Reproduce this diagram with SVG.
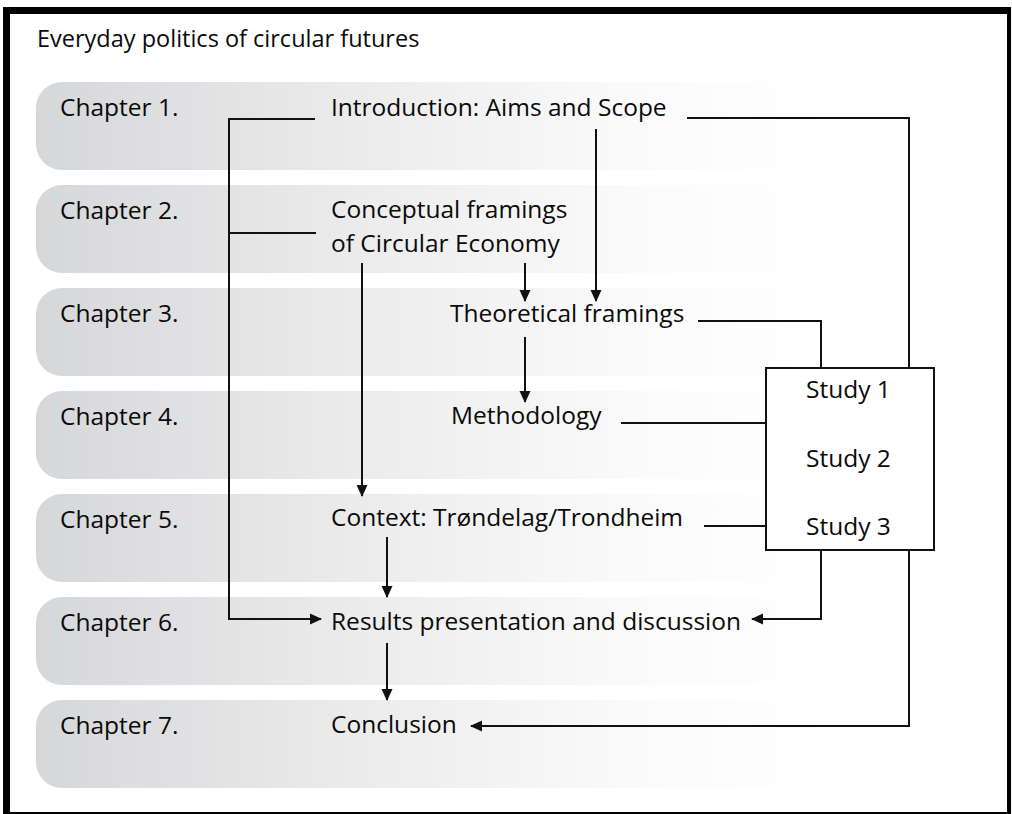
<svg xmlns="http://www.w3.org/2000/svg" width="1012" height="814" viewBox="0 0 1012 814">
  <defs>
    <linearGradient id="bandFill" gradientUnits="userSpaceOnUse" x1="36" y1="0" x2="820" y2="0">
      <stop offset="0" stop-color="#d6d7d9"/>
      <stop offset="0.4" stop-color="#ebebec"/>
      <stop offset="0.75" stop-color="#fafafa"/>
      <stop offset="1" stop-color="#ffffff"/>
    </linearGradient>
    <marker id="arrow" markerUnits="userSpaceOnUse" markerWidth="12" markerHeight="12" viewBox="0 0 12 12" refX="11" refY="6" orient="auto">
      <path d="M0,0.5 L12,6 L0,11.5 Z" fill="#111"/>
    </marker>
    <path id="band" d="M62,0 H1000 V88 H62 A26,26 0 0 1 36,62 V26 A26,26 0 0 1 62,0 Z"/>
  </defs>
  <style>
    text { font-family: "Open Sans", "Noto Sans", "Liberation Sans", sans-serif; font-size: 24.5px; fill: #0a0a0a; }
    .title { font-size: 23.5px; }
    .band { fill: url(#bandFill); }
    .link { fill: none; stroke: #111; stroke-width: 2; }
    .box { fill: #fff; stroke: #111; stroke-width: 2; }
  </style>

  <!-- frame -->
  <rect x="3" y="7" width="1008" height="807" fill="#000"/>
  <rect x="10" y="14" width="997" height="798" fill="#fff"/>

  <text class="title" x="37" y="47">Everyday politics of circular futures</text>

  <!-- chapter bands -->
  <g id="chapter1"><use href="#band" class="band" y="82"/><text x="60" y="116">Chapter 1.</text></g>
  <g id="chapter2"><use href="#band" class="band" y="185"/><text x="60" y="219">Chapter 2.</text></g>
  <g id="chapter3"><use href="#band" class="band" y="288"/><text x="60" y="322">Chapter 3.</text></g>
  <g id="chapter4"><use href="#band" class="band" y="391"/><text x="60" y="425">Chapter 4.</text></g>
  <g id="chapter5"><use href="#band" class="band" y="494"/><text x="60" y="528">Chapter 5.</text></g>
  <g id="chapter6"><use href="#band" class="band" y="597"/><text x="60" y="631">Chapter 6.</text></g>
  <g id="chapter7"><use href="#band" class="band" y="700"/><text x="60" y="734">Chapter 7.</text></g>

  <!-- content nodes -->
  <g id="introduction"><text x="331" y="116">Introduction: Aims and Scope</text></g>
  <g id="conceptual"><text x="331" y="218">Conceptual framings</text><text x="331" y="252">of Circular Economy</text></g>
  <g id="theoretical"><text x="450" y="322">Theoretical framings</text></g>
  <g id="methodology"><text x="451" y="424">Methodology</text></g>
  <g id="context"><text x="331" y="526">Context: Trøndelag/Trondheim</text></g>
  <g id="results"><text x="331" y="630">Results presentation and discussion</text></g>
  <g id="conclusion"><text x="331" y="733">Conclusion</text></g>

  <g id="studies">
    <rect class="box" x="766" y="368" width="168" height="182"/>
    <text x="806" y="398">Study 1</text>
    <text x="806" y="467">Study 2</text>
    <text x="806" y="535">Study 3</text>
  </g>

  <!-- connectors -->
  <g id="connectors">
    <path class="link" d="M315,119 H229 V619 H321" marker-end="url(#arrow)"/>
    <path class="link" d="M229,233 H316"/>
    <path class="link" d="M687,118 H909 V368"/>
    <path class="link" d="M596,129 V301" marker-end="url(#arrow)"/>
    <path class="link" d="M525,263 V301" marker-end="url(#arrow)"/>
    <path class="link" d="M362,263 V496" marker-end="url(#arrow)"/>
    <path class="link" d="M525,337 V402" marker-end="url(#arrow)"/>
    <path class="link" d="M387,537 V597" marker-end="url(#arrow)"/>
    <path class="link" d="M387,643 V700" marker-end="url(#arrow)"/>
    <path class="link" d="M698,321 H821 V368"/>
    <path class="link" d="M621,423 H766"/>
    <path class="link" d="M704,526 H766"/>
    <path class="link" d="M821,550 V619 H752" marker-end="url(#arrow)"/>
    <path class="link" d="M909,550 V726 H471" marker-end="url(#arrow)"/>
  </g>
</svg>
